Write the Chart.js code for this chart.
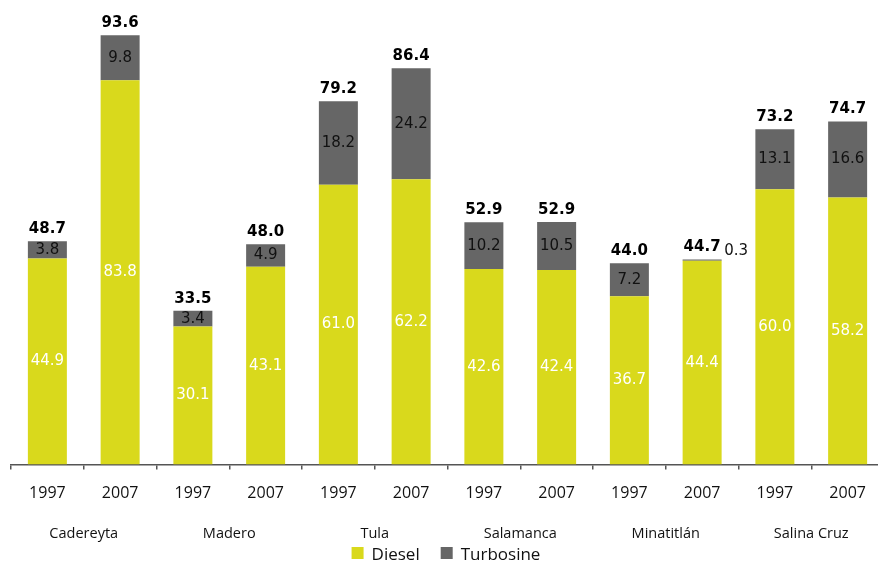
<!DOCTYPE html>
<html>
<head>
<meta charset="utf-8">
<script src="https://cdn.jsdelivr.net/npm/chart.js@4.4.1/dist/chart.umd.min.js"></script>
<style>
  html, body { margin: 0; padding: 0; background: #fff; overflow: hidden; }
  #wrap { width: 884px; height: 570px; }
</style>
</head>
<body>
<div id="wrap"><canvas id="chart" width="884" height="570"></canvas></div>
<script>
// Producción de diesel y turbosina por refinería, 1997 vs 2007
const years = ['1997', '2007', '1997', '2007', '1997', '2007', '1997', '2007', '1997', '2007', '1997', '2007'];
const refineries = ['Cadereyta', 'Madero', 'Tula', 'Salamanca', 'Minatitlán', 'Salina Cruz'];
const diesel = [44.9, 83.8, 30.1, 43.1, 61.0, 62.2, 42.6, 42.4, 36.7, 44.4, 60.0, 58.2];
const turbosine = [3.8, 9.8, 3.4, 4.9, 18.2, 24.2, 10.2, 10.5, 7.2, 0.3, 13.1, 16.6];
const totals = [48.7, 93.6, 33.5, 48.0, 79.2, 86.4, 52.9, 52.9, 44.0, 44.7, 73.2, 74.7];

const YELLOW = '#d9d91c';
const GRAY = '#666666';
const AXIS = '#555555';

// etiquetas de valor dentro de cada segmento y total encima de la pila
const barLabels = {
  id: 'barLabels',
  afterDatasetsDraw(chart) {
    const ctx = chart.ctx;
    ctx.save();
    ctx.textAlign = 'center';
    ctx.textBaseline = 'middle';
    chart.data.datasets.forEach((ds, di) => {
      const meta = chart.getDatasetMeta(di);
      meta.data.forEach((bar, i) => {
        const v = ds.data[i];
        const mid = (bar.y + bar.base) / 2;
        ctx.font = '15px "DejaVu Sans"';
        if (di === 0) {
          ctx.fillStyle = '#ffffff';
          ctx.fillText(v.toFixed(1), bar.x, mid);
        } else if (bar.base - bar.y < 14) {
          // segmento demasiado delgado: el valor va a un lado
          ctx.fillStyle = '#111111';
          ctx.fillText(v.toFixed(1), bar.x + 34, bar.y - 8);
        } else {
          ctx.fillStyle = '#111111';
          ctx.fillText(v.toFixed(1), bar.x, mid);
        }
      });
    });
    const top = chart.getDatasetMeta(1);
    ctx.font = 'bold 15px "DejaVu Sans"';
    ctx.fillStyle = '#000000';
    top.data.forEach((bar, i) => {
      ctx.fillText(totals[i].toFixed(1), bar.x, bar.y - 12);
    });
    ctx.restore();
  }
};

// leyenda dibujada a mano para controlar la separación entre elementos
const bottomLegend = {
  id: 'bottomLegend',
  afterDraw(chart) {
    const ctx = chart.ctx;
    const y = chart.height - 15;
    const box = 12, gap = 8, spacing = 21;
    ctx.save();
    ctx.font = '17px "Open Sans"';
    ctx.textBaseline = 'middle';
    const items = chart.data.datasets.map(ds => ({ label: ds.label, color: ds.backgroundColor, w: ctx.measureText(ds.label).width }));
    const total = items.reduce((s, it) => s + box + gap + it.w, 0) + spacing * (items.length - 1);
    let x = chart.width / 2 + 4 - total / 2;
    items.forEach(it => {
      ctx.fillStyle = it.color;
      ctx.fillRect(x, y - 8, box, box);
      ctx.fillStyle = '#111111';
      ctx.fillText(it.label, x + box + gap, y);
      x += box + gap + it.w + spacing;
    });
    ctx.restore();
  }
};

new Chart(document.getElementById('chart'), {
  type: 'bar',
  data: {
    labels: years,
    datasets: [
      { label: 'Diesel', data: diesel, backgroundColor: YELLOW },
      { label: 'Turbosine', data: turbosine, backgroundColor: GRAY }
    ]
  },
  options: {
    responsive: false,
    animation: false,
    events: [],
    layout: { padding: { left: 11, right: 0, top: 6, bottom: 18 } },
    datasets: { bar: { barPercentage: 0.536, categoryPercentage: 1 } },
    scales: {
      x: {
        stacked: true,
        border: { color: AXIS, width: 1.5 },
        grid: { drawOnChartArea: false, drawTicks: true, tickLength: 5, color: AXIS, lineWidth: 1.5 },
        ticks: { color: '#111', padding: 14, font: { family: 'Open Sans', size: 16 } }
      },
      x2: {
        type: 'category',
        labels: refineries,
        position: 'bottom',
        border: { display: false },
        grid: { display: false, drawTicks: false, tickLength: 0 },
        ticks: { color: '#111', padding: 9, font: { family: 'Open Sans', size: 14.5 } }
      },
      y: { stacked: true, display: false, min: 0, max: 100 }
    },
    plugins: {
      legend: { display: false },
      tooltip: { enabled: false }
    }
  },
  plugins: [barLabels, bottomLegend]
});
</script>
</body>
</html>
